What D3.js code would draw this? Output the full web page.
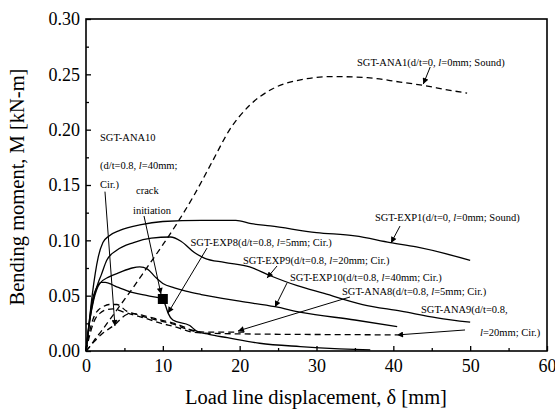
<!DOCTYPE html>
<html>
<head>
<meta charset="utf-8">
<script src="https://cdn.jsdelivr.net/npm/d3@7"></script>
<style>
  body { margin: 0; background: #fff; }
  svg { display: block; }
  text { font-family: "Liberation Serif", "Times New Roman", serif; fill: #000; }
</style>
</head>
<body>
<svg id="chart" width="555" height="412"></svg>
<script>
// data: [displacement mm, moment kN-m]
const exp1 = [[0,0],[0.4,0.025],[0.8,0.05],[1.2,0.07],[1.6,0.085],[2.2,0.098],[3,0.104],[4.4,0.109],[7,0.114],[10,0.117],[15,0.118],[19.5,0.118],[21.5,0.115],[24,0.113],[30,0.107],[35,0.104],[39.6,0.098],[43,0.094],[50,0.082]]
const exp9 = [[0,0],[0.5,0.028],[1,0.048],[1.5,0.06],[2,0.069],[2.7,0.082],[4,0.091],[6.2,0.098],[8.5,0.102],[11,0.103],[12.4,0.099],[14.1,0.089],[15.4,0.084],[18,0.080],[21.3,0.076],[24,0.068],[27.5,0.059],[31,0.052],[36,0.042],[41,0.036],[45.7,0.030],[50,0.026]]
const exp10 = [[0,0],[0.5,0.028],[1,0.046],[1.8,0.061],[3,0.067],[4.4,0.071],[6,0.075],[7,0.076],[8,0.074],[9,0.067],[10,0.061],[11.5,0.057],[13,0.054],[15,0.051],[20,0.045],[24.6,0.040],[28,0.035],[35,0.028],[40.5,0.022]]
const exp8 = [[0,0],[0.4,0.025],[0.8,0.045],[1.3,0.056],[2,0.062],[2.5,0.062],[4,0.058],[6,0.053],[8,0.050],[10,0.047],[10.3,0.042],[10.7,0.034],[11.3,0.028],[13.5,0.023],[14.4,0.018],[16,0.015],[18.4,0.012],[22.6,0.007],[27.9,0.004],[33,0.002],[37,0.001]]
const ana1 = [[0,0],[0.5,0.004],[1,0.009],[2,0.018],[4,0.037],[6,0.056],[8,0.076],[10,0.096],[12,0.117],[14,0.140],[16.5,0.172],[18.7,0.200],[21.3,0.222],[24.3,0.237],[27.9,0.245],[32,0.248],[36.6,0.247],[40.9,0.243],[43.9,0.240],[47,0.236],[49.6,0.233]]
const ana8 = [[0,0],[0.3,0.012],[0.7,0.024],[1.1,0.032],[1.6,0.037],[2.2,0.040],[3,0.042],[4,0.042],[5.3,0.036],[7.5,0.032],[9.8,0.028],[11.5,0.025],[13,0.021],[14,0.018],[16,0.017],[18,0.017],[21,0.017]]
const ana9 = [[0,0],[0.4,0.012],[0.8,0.022],[1.2,0.029],[1.8,0.034],[2.5,0.037],[3.5,0.038],[5,0.035],[7.5,0.030],[9.8,0.025],[11.5,0.022],[13.9,0.017],[16,0.016],[20,0.0155],[27,0.015],[34,0.0148],[40.5,0.0145]]
const ana10 = [[0,0],[1,0.008],[2,0.015],[3.6,0.023],[5.3,0.033],[6,0.034],[7.5,0.031],[9.8,0.027],[11.5,0.024],[13,0.020],[14.5,0.018]]

const solidSeries = [exp1, exp9, exp10, exp8]
const dashedSeries = [ana1, ana8, ana9, ana10]

const crackPoint = [10, 0.047]

const xTicks = [0, 10, 20, 30, 40, 50, 60]
const yTicks = [0, 0.05, 0.10, 0.15, 0.20, 0.25, 0.30]

// labels: [x, y, text before italic l, text after l]
const labels = [
  [35.27, 0.2611, 'SGT-ANA1(d/t=0, ', '=0mm; Sound)'],
  [1.82, 0.1933, 'SGT-ANA10', null],
  [1.82, 0.1680, '(d/t=0.8, ', '=40mm;'],
  [1.82, 0.1509, 'Cir.)', null],
  [6.51, 0.1454, 'crack', null],
  [6.12, 0.1274, 'initiation', null],
  [13.6, 0.0985, 'SGT-EXP8(d/t=0.8, ', '=5mm; Cir.)'],
  [37.6, 0.1210, 'SGT-EXP1(d/t=0, ', '=0mm; Sound)'],
  [20.43, 0.0822, 'SGT-EXP9(d/t=0.8, ', '=20mm; Cir.)'],
  [26.55, 0.0668, 'SGT-EXP10(d/t=0.8, ', '=40mm; Cir.)'],
  [33.32, 0.0542, 'SGT-ANA8(d/t=0.8, ', '=5mm; Cir.)'],
  [43.6, 0.0379, 'SGT-ANA9(d/t=0.8,', null],
  [51.28, 0.0172, '', '=20mm; Cir.)']
]

// arrows: [x1, y1, x2, y2] tip at second point
const arrows = [
  [44.8, 0.2566, 43.9, 0.2412],
  [2.47, 0.1440, 3.77, 0.0226],
  [7.55, 0.1220, 9.76, 0.0515],
  [15.75, 0.0930, 10.67, 0.0343],
  [40.87, 0.1129, 39.7, 0.0976],
  [24.86, 0.0768, 23.56, 0.0659],
  [26.16, 0.0614, 24.6, 0.0397],
  [34.36, 0.0488, 19.78, 0.0181],
  [49.33, 0.0190, 40.48, 0.0145]
]

const svg = d3.select('#chart')
const x = d3.scaleLinear().domain([0, 60]).range([86, 547])
const y = d3.scaleLinear().domain([0, 0.30]).range([351, 19])

svg.append('defs').append('marker')
  .attr('id', 'head')
  .attr('viewBox', '0 0 10 10')
  .attr('refX', 10).attr('refY', 5)
  .attr('markerWidth', 8).attr('markerHeight', 6)
  .attr('markerUnits', 'userSpaceOnUse')
  .attr('orient', 'auto')
  .append('path').attr('d', 'M0,0L10,5L0,10Z').attr('fill', '#000')

// axes, ticks inside
const xAxis = svg.append('g').attr('transform', 'translate(0,351)')
  .call(d3.axisBottom(x).tickValues(xTicks).tickSize(-5).tickPadding(8).tickFormat(d3.format('d')))
svg.append('g').attr('transform', 'translate(0,351)')
  .call(d3.axisBottom(x).tickValues(d3.range(5, 60, 10)).tickSize(-3).tickFormat(''))
const yAxis = svg.append('g').attr('transform', 'translate(86,0)')
  .call(d3.axisLeft(y).tickValues(yTicks).tickSize(-5).tickPadding(6).tickFormat(d3.format('.2f')))
svg.append('g').attr('transform', 'translate(86,0)')
  .call(d3.axisLeft(y).tickValues(d3.range(0.025, 0.3, 0.05)).tickSize(-3).tickFormat(''))

svg.selectAll('.domain').remove()
svg.selectAll('.tick line').attr('stroke', '#000').attr('stroke-width', 1.3)
xAxis.selectAll('text').attr('font-size', 18)
yAxis.selectAll('text').attr('font-size', 18)

svg.append('rect')
  .attr('x', x(0)).attr('y', y(0.30))
  .attr('width', x(60) - x(0)).attr('height', y(0) - y(0.30))
  .attr('fill', 'none').attr('stroke', '#000').attr('stroke-width', 1.6)

const line = d3.line()
  .x(d => x(d[0]))
  .y(d => y(d[1]))
  .curve(d3.curveMonotoneX)

svg.selectAll('.solid').data(solidSeries).enter().append('path')
  .attr('class', 'solid')
  .attr('d', line)
  .attr('fill', 'none').attr('stroke', '#000').attr('stroke-width', 1.3)

svg.selectAll('.dashed').data(dashedSeries).enter().append('path')
  .attr('class', 'dashed')
  .attr('d', line)
  .attr('fill', 'none').attr('stroke', '#000').attr('stroke-width', 1.3)
  .attr('stroke-dasharray', '6,4')

svg.append('rect')
  .attr('x', x(crackPoint[0]) - 5).attr('y', y(crackPoint[1]) - 5)
  .attr('width', 10).attr('height', 10).attr('fill', '#000')

svg.selectAll('.arrow').data(arrows).enter().append('line')
  .attr('class', 'arrow')
  .attr('x1', d => x(d[0])).attr('y1', d => y(d[1]))
  .attr('x2', d => x(d[2])).attr('y2', d => y(d[3]))
  .attr('stroke', '#000').attr('stroke-width', 1)
  .attr('marker-end', 'url(#head)')

const lab = svg.selectAll('.lab').data(labels).enter().append('text')
  .attr('class', 'lab')
  .attr('x', d => x(d[0])).attr('y', d => y(d[1]))
  .attr('dy', '0.35em')
  .attr('font-size', 10.5)
lab.append('tspan').text(d => d[2])
lab.filter(d => d[3] !== null).append('tspan').attr('font-style', 'italic').text('l')
lab.filter(d => d[3] !== null).append('tspan').text(d => d[3])

svg.append('text')
  .attr('x', 316).attr('y', 404)
  .attr('text-anchor', 'middle').attr('font-size', 20.5)
  .text('Load line displacement, \u03b4 [mm]')

svg.append('text')
  .attr('transform', 'translate(24,187) rotate(-90)')
  .attr('text-anchor', 'middle').attr('font-size', 20.5)
  .text('Bending moment, M [kN-m]')
</script>
</body>
</html>
